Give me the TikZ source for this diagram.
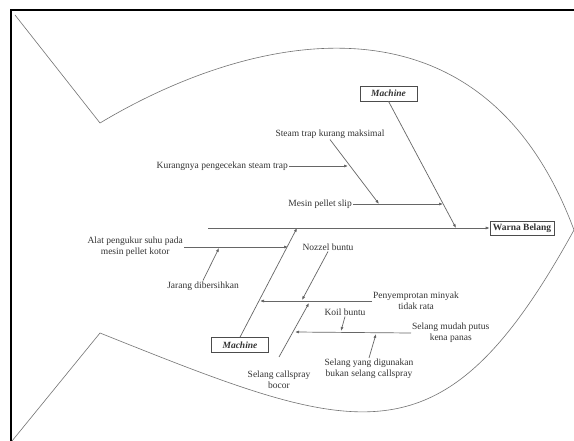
\documentclass[tikz,border=0pt]{standalone}
\usepackage{fontspec}
\setmainfont{Liberation Serif}
\usetikzlibrary{arrows.meta}
\begin{document}
\begin{tikzpicture}[x=1pt,y=-1pt,
  every node/.style={font=\fontsize{9.5}{11}\selectfont, text=black!80, inner sep=1pt},
  bone/.style={draw=black!60, line width=0.7pt},
  arr/.style={bone, -{Latex[length=4pt,width=3pt,fill=black!85]}},
  fish/.style={draw=black!55, line width=0.6pt},
  catbox/.style={draw=black!70, line width=0.6pt, font=\fontsize{9.5}{11}\selectfont\bfseries\itshape, minimum width=57pt, minimum height=15pt, inner sep=0pt},
  effbox/.style={draw=black!70, line width=0.6pt, font=\fontsize{9.5}{11}\selectfont\bfseries, minimum width=64pt, minimum height=14pt, inner sep=0pt},
  lbl/.style={align=center}]
\useasboundingbox (0,0) rectangle (574,441);
\clip (0,0) rectangle (574,441);
\fill[white] (0,0) rectangle (574,441);
\draw[line width=2pt] (11,10) rectangle (600,460);
% fish outline
\draw[fish] (15,15) -- (100,123) .. controls (250,33) and (481,-20) .. (574,230)
  .. controls (442,470) and (360,437) .. (100,333) -- (12,441);
% spine and effect
\node[effbox] (wb) at (522,228) {Warna Belang};
\coordinate (sp0) at (208,228);
\draw[arr] (sp0) -- (wb.west);
% upper category
\node[catbox] (m1) at (388.5,93.5) {Machine};
\coordinate (b1) at (456,228);
\draw[arr] (m1.south) -- (b1);
\node[anchor=east] (mps) at (353,204) {Mesin pellet slip};
\coordinate (a1) at (443,204);
\draw[arr] (mps.east) -- (a1);
\node (stk) at (330,134) {Steam trap kurang maksimal};
\coordinate (s1) at (379,204);
\draw[arr] (stk.south) -- (s1);
\node[anchor=east] (kps) at (289,166) {Kurangnya pengecekan steam trap};
\coordinate (s2) at (348,166);
\draw[arr] (kps.east) -- (s2);
% lower category
\node[catbox] (m2) at (240,345) {Machine};
\coordinate (b2) at (297,228);
\draw[arr] (m2.north) -- (b2);
\node[lbl,anchor=east] (alat) at (184,247) {Alat pengukur suhu pada\\mesin pellet kotor};
\coordinate (c2) at (288,247);
\draw[arr] (alat.east) -- (c2);
\node (jar) at (203,286) {Jarang dibersihkan};
\coordinate (j1) at (219,248);
\draw[arr] (jar.north) -- (j1);
\node (noz) at (328,247) {Nozzel buntu};
\coordinate (n1) at (302,300);
\draw[arr] (noz.south) -- (n1);
\node[lbl,anchor=west] (peny) at (372,301) {Penyemprotan minyak\\tidak rata};
\coordinate (c3) at (260,301);
\draw[arr] (peny.west) -- (c3);
\node[lbl] (scb) at (279,380) {Selang callspray\\bocor};
\coordinate (sc0) at (279,357);
\coordinate (sc1) at (309,303);
\draw[arr] (sc0) -- (sc1);
\node (koil) at (345,312) {Koil buntu};
\coordinate (k1) at (341,331);
\draw[arr] (koil.south) -- (k1);
\node[lbl,anchor=west] (smp) at (411,333) {Selang mudah putus\\kena panas};
\coordinate (c4) at (295,332);
\draw[arr] (smp.west) -- (c4);
\node[lbl] (syd) at (369,369) {Selang yang digunakan\\bukan selang callspray};
\coordinate (y1) at (376,334);
\draw[arr] (syd.north) -- (y1);
\end{tikzpicture}
\end{document}
